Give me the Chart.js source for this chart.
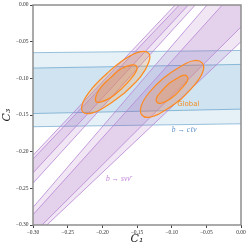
<!DOCTYPE html>
<html>
<head>
<meta charset="UTF-8">
<script src="https://cdn.jsdelivr.net/npm/chart.js"></script>
<style>body{margin:0;background:#fff}</style>
</head>
<body>
<canvas id="c" width="249" height="249"></canvas>
<script>
// tick values
const xTicks = [-0.30, -0.25, -0.20, -0.15, -0.10, -0.05, 0.00];
const yTicks = [-0.30, -0.25, -0.20, -0.15, -0.10, -0.05, 0.00];

// b -> c l nu band (horizontal), y at x = -0.30 and x = 0.00
const blueX = [-0.30, 0.00];
const blueOuterTop = [-0.065, -0.062];
const blueInnerTop = [-0.086, -0.081];
const blueInnerBot = [-0.148, -0.142];
const blueOuterBot = [-0.166, -0.162];

// b -> s nu nubar bands: edge lines, end points on the frame
// order: outer upper, inner upper, inner lower, outer lower
const band1X = [[-0.30, -0.095], [-0.30, -0.089], [-0.30, -0.076], [-0.30, -0.066]];
const band1Y = [[-0.205, 0.00], [-0.210, 0.00], [-0.229, 0.00], [-0.243, 0.00]];
const band2X = [[-0.30, -0.049], [-0.30, -0.027], [-0.287, 0.00], [-0.280, 0.00]];
const band2Y = [[-0.276, 0.00], [-0.286, 0.00], [-0.30, -0.030], [-0.30, -0.050]];

// global fit contours
const g1OuterX = [-0.168, -0.193, -0.214, -0.228, -0.228, -0.215, -0.193, -0.168, -0.146, -0.133, -0.133, -0.145, -0.168];
const g1OuterY = [-0.120, -0.137, -0.147, -0.146, -0.133, -0.114, -0.093, -0.074, -0.064, -0.066, -0.078, -0.098, -0.120];
const g1InnerX = [-0.173, -0.189, -0.202, -0.209, -0.209, -0.202, -0.188, -0.173, -0.159, -0.151, -0.151, -0.160, -0.173];
const g1InnerY = [-0.115, -0.127, -0.132, -0.132, -0.124, -0.112, -0.099, -0.087, -0.082, -0.083, -0.090, -0.102, -0.115];
const g2OuterX = [-0.087, -0.110, -0.131, -0.143, -0.144, -0.133, -0.112, -0.089, -0.069, -0.056, -0.055, -0.067, -0.087];
const g2OuterY = [-0.129, -0.144, -0.153, -0.150, -0.138, -0.120, -0.100, -0.085, -0.076, -0.079, -0.091, -0.109, -0.129];
const g2InnerX = [-0.094, -0.105, -0.115, -0.121, -0.122, -0.116, -0.105, -0.094, -0.084, -0.078, -0.077, -0.084, -0.094];
const g2InnerY = [-0.122, -0.130, -0.134, -0.133, -0.127, -0.119, -0.108, -0.101, -0.096, -0.097, -0.103, -0.112, -0.122];

// text labels
const labelText = ['Global', 'b \u2192 c\u2113\u03BD', 'b \u2192 s\u03BD\u03BD\u0304'];
const labelX = [-0.076, -0.082, -0.177];
const labelY = [-0.135, -0.170, -0.237];

const X_MIN = -0.30, X_MAX = 0.00, Y_MIN = -0.30, Y_MAX = 0.00;
const ORANGE = '#ff8a1f', BLUE = 'rgba(31,119,180,0.55)', PURPLE = '#b884d6';

const pts = (xs, ys) => xs.map((x, i) => ({x: x, y: ys[i]}));
const poly = (xs, a, b) => pts(xs.concat(xs.slice().reverse()), a.concat(b.slice().reverse()));

// region between two edge lines; corners of the frame added when the band wraps them
function bandPoly(bx, by, i, j, corners) {
  const a = pts(bx[i], by[i]);
  const b = pts(bx[j], by[j]).reverse();
  if (!corners) return a.concat(b);
  return a.concat([{x: X_MAX, y: Y_MAX}], b, [{x: X_MIN, y: Y_MIN}]);
}

function region(data, color, order) {
  return {data: data, showLine: true, fill: 'shape', backgroundColor: color,
          borderWidth: 0, pointRadius: 0, order: order};
}
function edge(data, color, order) {
  return {data: data, showLine: true, fill: false, borderColor: color,
          borderWidth: 0.8, pointRadius: 0, order: order};
}
function contour(xs, ys, order) {
  return {data: pts(xs, ys), showLine: true, fill: 'shape', tension: 0.4,
          backgroundColor: 'rgba(255,140,30,0.2)', borderColor: ORANGE,
          borderWidth: 1.2, pointRadius: 0, order: order};
}

const PURPLE_FILL = 'rgba(150,80,180,0.14)';
const datasets = [
  region(poly(blueX, blueOuterTop, blueOuterBot), 'rgba(31,119,180,0.11)', 30),
  region(poly(blueX, blueInnerTop, blueInnerBot), 'rgba(31,119,180,0.11)', 30),
  edge(pts(blueX, blueOuterTop), BLUE, 29), edge(pts(blueX, blueInnerTop), BLUE, 29),
  edge(pts(blueX, blueInnerBot), BLUE, 29), edge(pts(blueX, blueOuterBot), BLUE, 29),

  region(bandPoly(band1X, band1Y, 0, 3, false), PURPLE_FILL, 20),
  region(bandPoly(band1X, band1Y, 1, 2, false), PURPLE_FILL, 20),
  region(bandPoly(band2X, band2Y, 0, 3, true), PURPLE_FILL, 20),
  region(bandPoly(band2X, band2Y, 1, 2, true), PURPLE_FILL, 20)
];
band1X.forEach((xs, i) => datasets.push(edge(pts(xs, band1Y[i]), PURPLE, 19)));
band2X.forEach((xs, i) => datasets.push(edge(pts(xs, band2Y[i]), PURPLE, 19)));
datasets.push(contour(g1OuterX, g1OuterY, 10), contour(g1InnerX, g1InnerY, 9),
              contour(g2OuterX, g2OuterY, 10), contour(g2InnerX, g2InnerY, 9));

const fmt = v => (v < -1e-9 ? '\u2212' : '') + Math.abs(v).toFixed(2);

const frame = {
  id: 'frame',
  afterDatasetsDraw(chart) {
    const {ctx, chartArea: a} = chart;
    ctx.save();
    ctx.strokeStyle = '#8e8e8e';
    ctx.lineWidth = 1.5;
    ctx.strokeRect(a.left, a.top, a.right - a.left, a.bottom - a.top);
    ctx.restore();
  }
};

const labels = {
  id: 'labels',
  afterDatasetsDraw(chart) {
    const {ctx, scales} = chart;
    const colors = ['#f0902a', '#5a8fc8', '#c284da'];
    const fonts = ['7px "DejaVu Sans"', 'italic 7.5px "Liberation Serif"', 'italic 7.5px "Liberation Serif"'];
    ctx.save();
    ctx.textAlign = 'center';
    ctx.textBaseline = 'middle';
    labelText.forEach((t, i) => {
      ctx.fillStyle = colors[i];
      ctx.font = fonts[i];
      ctx.fillText(t, scales.x.getPixelForValue(labelX[i]), scales.y.getPixelForValue(labelY[i]));
    });
    ctx.restore();
  }
};

new Chart(document.getElementById('c'), {
  type: 'scatter',
  data: {datasets: datasets},
  options: {
    responsive: false,
    animation: false,
    layout: {padding: {top: 5, right: 8, left: 0, bottom: 0}},
    plugins: {legend: {display: false}, tooltip: {enabled: false}},
    scales: {
      x: {
        type: 'linear', min: X_MIN, max: X_MAX,
        afterBuildTicks: s => { s.ticks = xTicks.map(v => ({value: v})); },
        afterFit: s => { s.height = 24; },
        grid: {drawOnChartArea: false, drawTicks: true, tickLength: 3, color: '#444'},
        border: {display: false},
        ticks: {callback: fmt, maxRotation: 0, padding: 1, color: '#333',
                font: {family: 'Liberation Serif', size: 5.5}},
        title: {display: true, text: 'C\u2081', color: '#222', padding: {top: 0, bottom: 3},
                font: {family: 'DejaVu Serif', style: 'italic', size: 11}}
      },
      y: {
        type: 'linear', min: Y_MIN, max: Y_MAX,
        afterBuildTicks: s => { s.ticks = yTicks.map(v => ({value: v})); },
        afterFit: s => { s.width = 33; },
        grid: {drawOnChartArea: false, drawTicks: true, tickLength: 3, color: '#444'},
        border: {display: false},
        ticks: {callback: fmt, padding: 1.5, color: '#333',
                font: {family: 'Liberation Serif', size: 5.5}},
        title: {display: true, text: 'C\u2083', color: '#222', padding: {top: 1, bottom: 0},
                font: {family: 'DejaVu Serif', style: 'italic', size: 11}}
      }
    }
  },
  plugins: [frame, labels]
});
</script>
</body>
</html>
